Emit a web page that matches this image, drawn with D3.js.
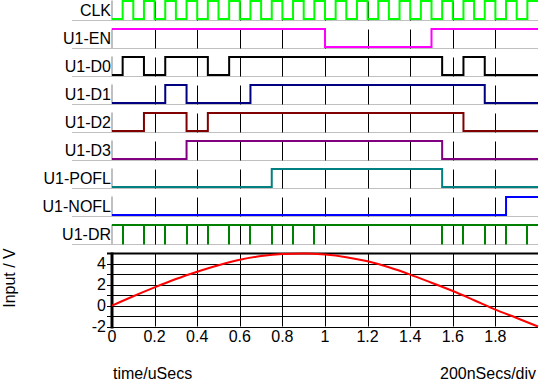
<!DOCTYPE html>
<html><head><meta charset="utf-8">
<script src="https://cdn.jsdelivr.net/npm/d3@7"></script>
<style>
body{margin:0;background:#fff}
svg{display:block}
text{font-family:"Liberation Sans",Arial,sans-serif;font-size:16px;fill:#000}
</style>
</head><body><svg id="c" width="539" height="381"></svg>
<script>
// ---- data ----
const signalNames = ["CLK","U1-EN","U1-D0","U1-D1","U1-D2","U1-D3","U1-POFL","U1-NOFL","U1-DR"];
const signalColors = ["#00ff00","#ff00ff","#000000","#000080","#800000","#800080","#008080","#0000ff","#008000"];
const clkStart = 0;
const clkEdges = [0.05,0.10,0.15,0.20,0.25,0.30,0.35,0.40,0.45,0.50,0.55,0.60,0.65,0.70,0.75,0.80,0.85,0.90,0.95,1.00,
                  1.05,1.10,1.15,1.20,1.25,1.30,1.35,1.40,1.45,1.50,1.55,1.60,1.65,1.70,1.75,1.80,1.85,1.90,1.95];
const enStart = 1;
const enEdges = [1.0, 1.5];
const d0Start = 0;
const d0Edges = [0.05, 0.15, 0.25, 0.45, 0.55, 1.55, 1.65, 1.75];
const d1Start = 0;
const d1Edges = [0.25, 0.35, 0.65, 1.75];
const d2Start = 0;
const d2Edges = [0.15, 0.35, 0.45, 1.65];
const d3Start = 0;
const d3Edges = [0.35, 1.55];
const poflStart = 0;
const poflEdges = [0.75, 1.55];
const noflStart = 0;
const noflEdges = [1.85];
const drPulses = [0.05,0.15,0.25,0.35,0.45,0.55,0.65,0.75,0.85,0.95,1.55,1.65,1.75,1.85,1.95];

const inputTimes = [0,0.1,0.2,0.3,0.4,0.5,0.6,0.7,0.8,0.9,1.0,1.1,1.2,1.3,1.4,1.5,1.6,1.7,1.8,1.9,2.0];
const inputVolts = [0,0.9,1.75,2.55,3.25,3.88,4.4,4.75,4.95,5.0,4.9,4.65,4.25,3.68,2.98,2.2,1.4,0.52,-0.38,-1.18,-2.0];

const timeTicks = [0.2,0.4,0.6,0.8,1.0,1.2,1.4,1.6,1.8];
const timeLabelVals = [0,0.2,0.4,0.6,0.8,1,1.2,1.4,1.6,1.8];
const timeLabels = ["0","0.2","0.4","0.6","0.8","1","1.2","1.4","1.6","1.8"];
const voltGrid = [-2,-1,0,1,2,3,4,5];
const voltLabelVals = [4,2,0,-2];
const voltLabels = ["4","2","0","-2"];

// ---- scales ----
const svg = d3.select("#c");
const x = d3.scaleLinear().domain([0,2]).range([112,538]);
const rowBase = d3.scalePoint().domain(signalNames).range([20.5,244.5]);
const y = d3.scaleLinear().domain([-2,5]).range([326.5,253.5]);
const crisp = v => Math.round(v) + 0.5;

const signals = [
  {start:clkStart, edges:clkEdges},
  {start:enStart, edges:enEdges},
  {start:d0Start, edges:d0Edges},
  {start:d1Start, edges:d1Edges},
  {start:d2Start, edges:d2Edges},
  {start:d3Start, edges:d3Edges},
  {start:poflStart, edges:poflEdges},
  {start:noflStart, edges:noflEdges}
];

// ---- digital rows ----
const rows = svg.append("g");
signalNames.forEach((name,i)=>{
  const b = rowBase(name);
  const g = rows.append("g");
  // baseline
  g.append("line").attr("x1",72).attr("x2",538).attr("y1",b).attr("y2",b)
    .attr("stroke","#c0c0c0").attr("stroke-width",1);
  // left gray bar
  g.append("line").attr("x1",112).attr("x2",112).attr("y1",b-20).attr("y2",b)
    .attr("stroke","#c0c0c0").attr("stroke-width",2);
  // grid ticks
  g.selectAll("line.tk").data(timeTicks).enter().append("line").attr("class","tk")
    .attr("x1",d=>crisp(x(d))).attr("x2",d=>crisp(x(d)))
    .attr("y1",b-19).attr("y2",b).attr("stroke","#000").attr("stroke-width",1);
  // label
  g.append("text").attr("x",111).attr("y",b-4.5).attr("text-anchor","end").text(name);

  const hi = b-19.5, lo = b-1.5;
  if (i < signals.length){
    const s = signals[i];
    let lvl = s.start;
    const pts = [[0,lvl]];
    s.edges.forEach(t=>{ lvl = 1-lvl; pts.push([t,lvl]); });
    pts.push([2,lvl]);
    const line = d3.line().x(d=>x(d[0])).y(d=>d[1]?hi:lo).curve(d3.curveStepAfter);
    g.append("path").attr("d",line(pts)).attr("fill","none")
      .attr("stroke",signalColors[i]).attr("stroke-width",2);
  } else {
    // DR: high with short low pulses
    g.append("line").attr("x1",x(0)).attr("x2",x(2)).attr("y1",hi).attr("y2",hi)
      .attr("stroke",signalColors[i]).attr("stroke-width",2);
    g.selectAll("line.pl").data(drPulses).enter().append("line").attr("class","pl")
      .attr("x1",d=>Math.round(x(d))).attr("x2",d=>Math.round(x(d)))
      .attr("y1",hi).attr("y2",b).attr("stroke",signalColors[i]).attr("stroke-width",2);
  }
});

// ---- analog panel ----
const an = svg.append("g");
an.selectAll("line.hg").data(voltGrid).enter().append("line").attr("class","hg")
  .attr("x1",107).attr("x2",538)
  .attr("y1",d=>d===5?y(d):crisp(y(d))).attr("y2",d=>d===5?y(d):crisp(y(d)))
  .attr("stroke","#000").attr("stroke-width",d=>d===5?2:1);
an.selectAll("line.vg").data(timeTicks).enter().append("line").attr("class","vg")
  .attr("x1",d=>crisp(x(d))).attr("x2",d=>crisp(x(d)))
  .attr("y1",y(5)).attr("y2",y(-2)).attr("stroke","#000").attr("stroke-width",1);
an.append("line").attr("x1",x(0)).attr("x2",x(0)).attr("y1",252.5).attr("y2",328.5)
  .attr("stroke","#000").attr("stroke-width",3);

// curve
const curve = d3.line().x((d,i)=>x(inputTimes[i])).y(d=>y(d)).curve(d3.curveMonotoneX);
an.append("path").attr("d",curve(inputVolts)).attr("fill","none")
  .attr("stroke","#ff0000").attr("stroke-width",2);

// tick labels
an.selectAll("text.xl").data(timeLabelVals).enter().append("text").attr("class","xl")
  .attr("x",d=>x(d)).attr("y",342).attr("text-anchor","middle").text((d,i)=>timeLabels[i]);
an.selectAll("text.yl").data(voltLabelVals).enter().append("text").attr("class","yl")
  .attr("x",106).attr("y",d=>y(d)+5.5).attr("text-anchor","end").text((d,i)=>voltLabels[i]);

// axis titles
svg.append("text").attr("transform","translate(14.5,278) rotate(-90)")
  .attr("text-anchor","middle").text("Input / V");
svg.append("text").attr("x",113).attr("y",379).text("time/uSecs");
svg.append("text").attr("x",440).attr("y",379).text("200nSecs/div");
</script>
</body></html>
